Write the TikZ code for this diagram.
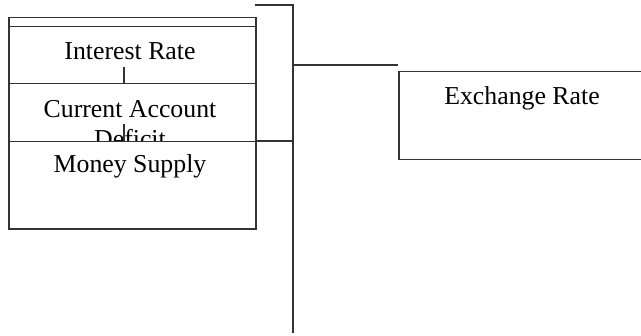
\documentclass[tikz,border=0pt]{standalone}
\usepackage{fontspec}
\setmainfont{Liberation Serif}

\tikzset{
    box/.style={draw, fill=white, line width=0.75pt, draw=black!80, inner sep=0pt, anchor=north west, minimum width=123.5pt},
    wire/.style={line width=0.75pt, draw=black!80},
    lbl/.style={anchor=base, inner sep=0pt, font=\fontsize{12.9pt}{15pt}\selectfont}
}

\begin{document}
\begin{tikzpicture}[x=0.5pt, y=-0.5pt]
    \useasboundingbox (0,0) rectangle (641,336);
    \clip (0,0) rectangle (641,336);

    % stacked factor boxes on the left
    \node[box, minimum height=4.5pt] (head) at (8,17) {};
    \node[box, minimum height=28.5pt] (rate) at (8,26) {};
    \node[lbl] (ratetxt) at (130,60) {Interest Rate};
    \node[box, minimum height=29pt] (deficit) at (8,83) {};
    \node[lbl] (deftxt) at (130,118) {Current Account};
    \node[lbl] (deftxtb) at (130,147.5) {Deficit};
    \node[box, minimum height=43.5pt] (money) at (8,141) {};
    \node[lbl] (moneytxt) at (130,173) {Money Supply};

    % small ticks between the boxes
    \draw[wire] ([xshift=-4.25pt]rate.south) -- ++(0,-17);
    \draw[wire] ([xshift=-4.25pt]deficit.south) -- ++(0,-18);

    % result box on the right
    \node[box, minimum width=130pt, minimum height=44pt] (exch) at (398,71) {};
    \node[lbl] (exchtxt) at (522,105) {Exchange Rate};

    % bracket joining them
    \coordinate (jtop) at (255,5);
    \coordinate (jbot) at (293,333);
    \coordinate (jout) at (398,65);
    \draw[wire] (jtop) -- (jtop -| jbot) -- (jbot);
    \draw[wire] (money.north east) -- (money.north east -| jbot);
    \draw[wire] (jbot |- jout) -- (jout);
\end{tikzpicture}
\end{document}
